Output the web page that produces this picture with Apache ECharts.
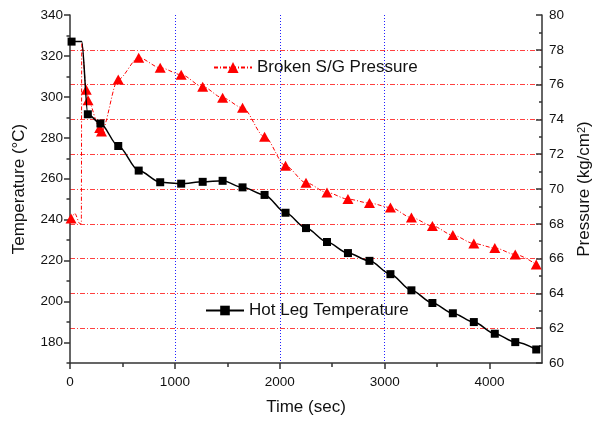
<!DOCTYPE html>
<html>
<head>
<meta charset="utf-8">
<script src="https://cdn.jsdelivr.net/npm/echarts@6/dist/echarts.min.js"></script>
<style>
html,body{margin:0;padding:0;background:#fff;}
#chart{width:592px;height:423px;}
</style>
</head>
<body>
<div id="chart"></div>
<script>
// ---- data ----
const timeTicks = [0, 1000, 2000, 3000, 4000];
const timeMinorTicks = [500, 1500, 2500, 3500];
const tempTicks = [180, 200, 220, 240, 260, 280, 300, 320, 340];
const pressureTicks = [60, 62, 64, 66, 68, 70, 72, 74, 76, 78, 80];

// Hot leg temperature (degC): marker points
const tempMarkTime = [15, 170, 290, 460, 655, 860, 1060, 1265, 1455, 1645, 1855, 2055, 2250, 2450, 2650, 2855, 3055, 3255, 3455, 3650, 3850, 4050, 4245, 4445];
const tempMarkValue = [327, 291.5, 287, 276, 264, 258.3, 257.6, 258.5, 259, 255.8, 252.1, 243.4, 235.9, 229.1, 223.7, 219.9, 213.4, 205.5, 199.3, 194.3, 190, 184.3, 180.2, 176.6];
// extra curve points without markers
const tempLineTime = [0, 112];
const tempLineValue = [327, 327];

// Broken S/G pressure (kg/cm2): marker points
const presMarkTime = [10, 155, 172, 283, 300, 460, 655, 860, 1060, 1265, 1455, 1645, 1855, 2055, 2250, 2450, 2650, 2855, 3055, 3255, 3455, 3650, 3850, 4050, 4245, 4445];
const presMarkValue = [68.3, 75.7, 75.1, 73.5, 73.3, 76.3, 77.55, 76.97, 76.57, 75.88, 75.24, 74.67, 73.0, 71.33, 70.36, 69.8, 69.42, 69.19, 68.94, 68.36, 67.88, 67.35, 66.87, 66.61, 66.24, 65.66];
// extra curve points without markers
const presLineTime = [0, 45, 95, 108, 112];
const presLineValue = [68.2, 68.6, 68.0, 68.0, 78.4];

const tempName = 'Hot Leg Temperature';
const presName = 'Broken S/G Pressure';

function pairs(t, v) { return t.map((x, i) => [x, v[i]]); }
function curve(t1, v1, t2, v2) {
  return pairs(t1, v1).concat(pairs(t2, v2)).sort((a, b) => a[0] - b[0]);
}

const FONT = "'Liberation Sans', Arial, sans-serif";
const axisLineStyle = { color: '#333', width: 1.5 };
const plain = v => String(v);

const chart = echarts.init(document.getElementById('chart'), null, { renderer: 'canvas' });
chart.setOption({
  animation: false,
  backgroundColor: '#fff',
  textStyle: { fontFamily: FONT },
  grid: { left: 70, right: 50, top: 15, bottom: 60, containLabel: false, outerBoundsMode: 'none' },
  legend: [
    {
      data: [presName], left: 213, top: 59, padding: 0,
      itemWidth: 38, itemHeight: 14, itemGap: 6,
      textStyle: { fontSize: 17, color: '#111', fontFamily: FONT }
    },
    {
      data: [tempName], left: 205, top: 302, padding: 0,
      itemWidth: 38, itemHeight: 12, itemGap: 6,
      textStyle: { fontSize: 17, color: '#111', fontFamily: FONT }
    }
  ],
  xAxis: [
    {
      type: 'value', min: 0, max: 4500, interval: 1000,
      name: 'Time (sec)', nameLocation: 'middle', nameGap: 36,
      nameTextStyle: { fontSize: 17, color: '#111', fontFamily: FONT },
      axisLine: { show: true, onZero: false, lineStyle: axisLineStyle },
      axisTick: { show: true, length: 6, customValues: timeTicks, lineStyle: axisLineStyle },
      axisLabel: { customValues: timeTicks, formatter: plain, fontSize: 13.5, color: '#111', margin: 12, fontFamily: FONT },
      splitLine: { show: true, showMinLine: false, showMaxLine: false, lineStyle: { color: '#2020ff', width: 1, type: [1, 2] } }
    },
    {
      type: 'value', min: 0, max: 4500, interval: 500, position: 'bottom',
      axisLine: { show: false },
      axisTick: { show: true, length: 4, customValues: timeMinorTicks, lineStyle: axisLineStyle },
      axisLabel: { show: false },
      splitLine: { show: false }
    }
  ],
  yAxis: [
    {
      type: 'value', min: 170, max: 340, position: 'left',
      name: 'Temperature (°C)', nameLocation: 'middle', nameGap: 42, nameRotate: 90,
      nameTextStyle: { fontSize: 17, color: '#111', fontFamily: FONT },
      axisLine: { show: true, onZero: false, lineStyle: axisLineStyle },
      axisTick: { show: true, length: 6, customValues: tempTicks, lineStyle: axisLineStyle },
      axisLabel: { customValues: tempTicks, formatter: plain, fontSize: 13.5, color: '#111', margin: 7, fontFamily: FONT },
      splitLine: { show: false }
    },
    {
      type: 'value', min: 60, max: 80, interval: 2, position: 'right',
      name: 'Pressure (kg/cm{sup|2})', nameLocation: 'middle', nameGap: 34, nameRotate: 90,
      nameTextStyle: {
        fontSize: 17, color: '#111', fontFamily: FONT,
        rich: { sup: { fontSize: 11, verticalAlign: 'top', color: '#111', fontFamily: FONT } }
      },
      axisLine: { show: true, onZero: false, lineStyle: axisLineStyle },
      axisTick: { show: true, inside: true, length: 6, lineStyle: axisLineStyle },
      minorTick: { show: true, splitNumber: 2, length: 3, lineStyle: axisLineStyle },
      axisLabel: { formatter: plain, fontSize: 13.5, color: '#111', margin: 7, fontFamily: FONT },
      splitLine: { show: true, showMinLine: false, showMaxLine: false, lineStyle: { color: 'rgba(255,0,0,0.75)', width: 1, type: [5, 2, 1, 2] } }
    },
    {
      type: 'value', min: 170, max: 340, interval: 10, position: 'left',
      axisLine: { show: false },
      axisTick: { show: true, length: 3.5, lineStyle: axisLineStyle },
      axisLabel: { show: false },
      splitLine: { show: false }
    }
  ],
  series: [
    {
      name: presName, type: 'line', yAxisIndex: 1,
      data: curve(presMarkTime, presMarkValue, presLineTime, presLineValue),
      smooth: 0.3, smoothMonotone: 'x', showSymbol: false,
      symbol: 'triangle', symbolSize: 10,
      lineStyle: { color: '#ff0000', width: 1, type: [4, 2, 1, 2] },
      itemStyle: { color: '#ff0000' }, z: 3
    },
    {
      name: presName + ' markers', type: 'scatter', yAxisIndex: 1,
      data: pairs(presMarkTime, presMarkValue),
      symbol: 'triangle', symbolSize: [11, 10],
      itemStyle: { color: '#ff0000', opacity: 1 }, z: 4
    },
    {
      name: tempName, type: 'line', yAxisIndex: 0,
      data: curve(tempMarkTime, tempMarkValue, tempLineTime, tempLineValue),
      smooth: 0.3, smoothMonotone: 'x', showSymbol: false,
      symbol: 'rect', symbolSize: 8,
      lineStyle: { color: '#000', width: 1.5 },
      itemStyle: { color: '#000' }, z: 5
    },
    {
      name: tempName + ' markers', type: 'scatter', yAxisIndex: 0,
      data: pairs(tempMarkTime, tempMarkValue),
      symbol: 'rect', symbolSize: 8,
      itemStyle: { color: '#000', opacity: 1 }, z: 6
    }
  ]
});
</script>
</body>
</html>
